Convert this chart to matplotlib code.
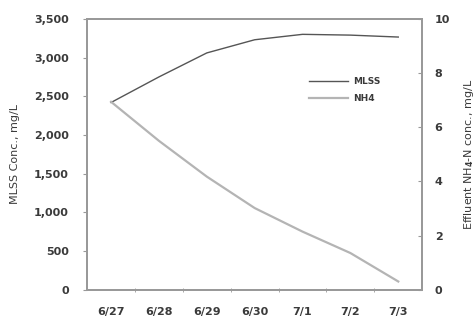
import numpy as np
import matplotlib
matplotlib.use('Agg')
from matplotlib import pyplot as plt
from matplotlib.ticker import FuncFormatter

# values
dates = ['6/27', '6/28', '6/29', '6/30', '7/1', '7/2', '7/3']
mlss = [2420, 2750, 3060, 3230, 3300, 3290, 3265]      # mg/L, left axis
nh4 = [6.94, 5.5, 4.18, 3.02, 2.15, 1.36, 0.31]        # mg/L, right axis

text_col = '#3a3a3a'
spine_col = '#999999'

plt.rcParams['font.family'] = ['DejaVu Sans']
plt.rcParams['font.size'] = 8
plt.rcParams['font.weight'] = 'bold'

fig = plt.figure(figsize=(4.76, 3.25), dpi=100)
ax = fig.add_axes([0.183, 0.108, 0.704, 0.834])
ax2 = ax.twinx()

x = np.arange(len(dates))
l1, = ax.plot(x, mlss, color='#555555', lw=1.0, label='MLSS')
l2, = ax2.plot(x, nh4, color='#b4b4b4', lw=1.6, label='NH4')

ax.set_xlim(-0.5, len(dates) - 0.5)
ax.set_ylim(0, 3500)
ax2.set_ylim(0, 10)

ax.set_yticks(np.arange(0, 3501, 500))
ax.yaxis.set_major_formatter(FuncFormatter(lambda v, p: f'{int(v):,}'))
ax2.set_yticks(np.arange(0, 11, 2))

# category axis: labels at centres, tick marks between categories
ax.set_xticks(x)
ax.set_xticklabels(dates)
ax.set_xticks(x[:-1] + 0.5, minor=True)
ax.tick_params(axis='x', which='major', length=0, pad=12, colors=text_col)
ax.tick_params(axis='x', which='minor', length=3, direction='inout', color=spine_col)
ax.tick_params(axis='y', length=3, direction='out', pad=10, colors=text_col, color=spine_col)
ax2.tick_params(axis='y', length=3, direction='in', pad=9, colors=text_col, color=spine_col)

for a in (ax, ax2):
    for s in a.spines.values():
        s.set_color(spine_col)
        s.set_linewidth(1.3)

ax.set_ylabel('MLSS Conc., mg/L', color=text_col)
ax.yaxis.set_label_coords(-0.2, 0.5)
ax2.set_ylabel('Effluent NH$_\\mathbf{4}$-N conc., mg/L', color=text_col, rotation=90)
ax2.yaxis.set_label_coords(1.118, 0.5)

ax.legend(handles=[l1, l2], loc='upper right', bbox_to_anchor=(0.9, 0.815),
          frameon=False, handlelength=4.3, handletextpad=0.6, labelspacing=0.9,
          fontsize=6.5, labelcolor=text_col)

fig.savefig('out.png', dpi=100)
